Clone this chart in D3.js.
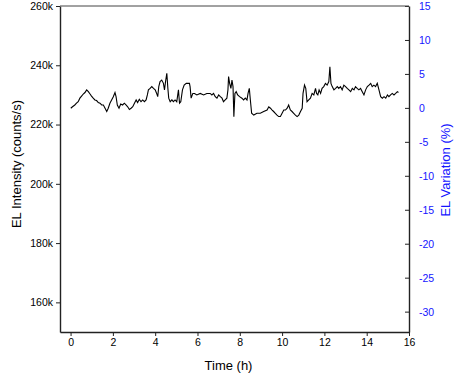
<!DOCTYPE html>
<html>
<head>
<meta charset="utf-8">
<script src="https://cdn.jsdelivr.net/npm/d3@7"></script>
<style>
  body { margin: 0; background: #fff; }
  svg { font-family: "Liberation Sans", Arial, sans-serif; }
  .axis path, .axis line { stroke: #222; }
</style>
</head>
<body>
<div id="chart"></div>
<script>
// time (h) and EL intensity (k counts/s)
const timeH = [
  0.01, 0.09, 0.20, 0.28, 0.36, 0.44, 0.52, 0.60, 0.68, 0.76, 0.84, 0.92, 0.99, 1.07, 1.15, 1.23,
  1.31, 1.39, 1.47, 1.55, 1.63, 1.71, 1.78, 1.86, 1.94, 2.02, 2.10, 2.15, 2.21, 2.29, 2.37, 2.46,
  2.54, 2.62, 2.70, 2.78, 2.86, 2.94, 3.02, 3.10, 3.17, 3.25, 3.33, 3.41, 3.49, 3.57, 3.63, 3.68,
  3.76, 3.84, 3.92, 4.00, 4.07, 4.12, 4.17, 4.23, 4.31, 4.39, 4.44, 4.49, 4.55, 4.60, 4.64, 4.71,
  4.79, 4.86, 4.94, 5.02, 5.10, 5.15, 5.21, 5.29, 5.37, 5.47, 5.54, 5.62, 5.65, 5.70, 5.78, 5.86,
  5.97, 6.13, 6.29, 6.44, 6.60, 6.68, 6.76, 6.84, 6.92, 7.00, 7.08, 7.16, 7.23, 7.31, 7.39, 7.44,
  7.47, 7.52, 7.58, 7.63, 7.68, 7.72, 7.77, 7.83, 7.90, 7.99, 8.10, 8.18, 8.26, 8.34, 8.39, 8.45,
  8.50, 8.56, 8.66, 8.81, 8.97, 9.13, 9.29, 9.37, 9.45, 9.53, 9.60, 9.68, 9.76, 9.84, 9.92, 10.00,
  10.08, 10.16, 10.24, 10.31, 10.39, 10.47, 10.55, 10.63, 10.71, 10.79, 10.87, 10.95, 10.99, 11.06,
  11.12, 11.18, 11.26, 11.34, 11.42, 11.50, 11.58, 11.63, 11.69, 11.75, 11.82, 11.89, 11.97, 12.05,
  12.13, 12.21, 12.26, 12.31, 12.37, 12.45, 12.53, 12.61, 12.68, 12.76, 12.84, 12.92, 13.00, 13.08,
  13.16, 13.24, 13.32, 13.40, 13.47, 13.55, 13.63, 13.71, 13.79, 13.87, 13.95, 14.03, 14.11, 14.19,
  14.26, 14.34, 14.42, 14.50, 14.58, 14.66, 14.74, 14.82, 14.90, 14.98, 15.05, 15.13, 15.21, 15.29,
  15.37, 15.45, 15.50
];
const intensityK = [
  225.5, 226.0, 226.6, 227.2, 227.7, 228.9, 229.6, 230.3, 230.8, 231.7, 231.1, 230.3, 229.6, 228.9, 228.3, 228.1,
  227.4, 227.2, 226.6, 226.6, 225.5, 224.4, 225.5, 227.2, 228.3, 229.4, 230.8, 229.4, 226.6, 225.5, 226.9, 226.6,
  227.2, 226.6, 226.0, 225.1, 225.5, 226.0, 227.2, 228.3, 227.4, 228.5, 227.7, 228.3, 227.7, 228.3, 230.0, 231.7,
  232.2, 232.8, 232.2, 231.7, 230.5, 229.4, 232.8, 234.5, 235.0, 233.9, 231.7, 234.5, 237.3, 232.2, 228.9, 227.7,
  228.3, 227.7, 228.3, 227.7, 231.7, 227.2, 227.7, 231.7, 233.3, 233.9, 233.9, 233.9, 232.8, 228.9, 230.5, 230.5,
  230.0, 230.5, 230.0, 230.5, 230.5, 230.0, 230.5, 229.4, 228.9, 230.0, 229.4, 228.9, 227.7, 228.3, 228.9, 231.7,
  236.2, 233.9, 232.2, 235.0, 232.8, 222.6, 230.5, 231.1, 230.0, 229.4, 228.9, 228.3, 228.9, 228.3, 230.5, 232.2,
  228.3, 223.8, 223.2, 223.8, 223.8, 224.4, 224.9, 226.0, 225.5, 224.9, 224.4, 223.8, 223.2, 222.7, 222.7, 223.8,
  224.9, 224.9, 225.5, 226.6, 224.9, 224.4, 223.8, 223.2, 222.7, 223.2, 224.4, 225.5, 230.5, 233.3,
  232.2, 227.7, 228.3, 228.9, 230.5, 230.0, 232.2, 230.5, 230.0, 231.7, 230.5, 232.2, 232.8, 233.9,
  233.3, 234.5, 239.5, 233.9, 232.8, 231.7, 232.2, 232.8, 232.2, 232.8, 231.7, 233.3, 232.8, 232.2,
  231.7, 231.1, 232.2, 231.7, 232.8, 232.2, 231.7, 232.2, 231.1, 230.0, 231.7, 232.8, 233.3, 233.9,
  232.8, 233.3, 232.8, 233.9, 231.7, 229.4, 228.9, 229.4, 228.9, 230.0, 229.4, 230.0, 230.5, 230.0,
  230.5, 231.1, 230.8
];

const xMajor = [0, 2, 4, 6, 8, 10, 12, 14, 16];
const xMinor = [1, 3, 5, 7, 9, 11, 13, 15];
const yMajor = [160, 180, 200, 220, 240, 260];
const yMinor = [170, 190, 210, 230, 250];
const y2Major = [-30, -25, -20, -15, -10, -5, 0, 5, 10, 15];
const y2Minor = [-32.5, -27.5, -22.5, -17.5, -12.5, -7.5, -2.5, 2.5, 7.5, 12.5];

const W = 454, H = 374;
const margin = {top: 6, right: 45, bottom: 42, left: 60};
const width = W - margin.left - margin.right,
  height = H - margin.top - margin.bottom;

const sx = d3.scaleLinear().domain([-0.5, 16]).range([0, width]);
const sy = d3.scaleLinear().domain([150, 260]).range([height, 0]);
const sy2 = d3.scaleLinear().domain([-33, 15]).range([height, 0]);

const svg = d3.select('#chart').append('svg')
  .attr('width', W)
  .attr('height', H)
  .append('g')
  .attr('transform', `translate(${margin.left},${margin.top})`);

// series
const data = timeH.map((t, i) => ({t: t, v: intensityK[i]}));
svg.append('path')
  .datum(data)
  .attr('fill', 'none')
  .attr('stroke', '#000')
  .attr('stroke-width', 1.1)
  .attr('d', d3.line().x(d => sx(d.t)).y(d => sy(d.v)));

// bottom axis
const gx = svg.append('g').attr('class', 'axis')
  .attr('transform', `translate(0,${height})`);
gx.call(d3.axisBottom(sx).tickValues(xMinor).tickSize(2.5).tickFormat(''));
gx.call(d3.axisBottom(sx).tickValues(xMajor).tickSize(4).tickSizeOuter(0).tickPadding(3));
gx.selectAll('text').attr('font-size', 10.5).attr('fill', '#000');

// left axis
const gy = svg.append('g').attr('class', 'axis');
gy.call(d3.axisLeft(sy).tickValues(yMinor).tickSize(2.5).tickFormat(''));
gy.call(d3.axisLeft(sy).tickValues(yMajor).tickSize(4).tickSizeOuter(0).tickPadding(3)
  .tickFormat(d => d + 'k'));
gy.selectAll('text').attr('font-size', 10.5).attr('fill', '#000');

// right axis, ticks pointing inward, plain hyphen minus
const gy2 = svg.append('g').attr('class', 'axis')
  .attr('transform', `translate(${width},0)`);
gy2.call(d3.axisRight(sy2).tickValues(y2Minor).tickSize(-2.5).tickFormat(''));
gy2.call(d3.axisRight(sy2).tickValues(y2Major).tickSize(-4).tickSizeOuter(0).tickPadding(10)
  .tickFormat(d => String(d)));
gy2.selectAll('text').attr('font-size', 10.5).attr('fill', '#1515ff');

// frame top
svg.append('line')
  .attr('x1', 0).attr('x2', width)
  .attr('y1', 0).attr('y2', 0)
  .attr('stroke', '#444');

svg.selectAll('.axis path.domain').attr('stroke-width', 1.4);

// titles
svg.append('text')
  .attr('x', width / 2 - 6)
  .attr('y', height + 38)
  .attr('text-anchor', 'middle')
  .attr('font-size', 13)
  .text('Time (h)');

svg.append('text')
  .attr('transform', `translate(${16 - margin.left},${164 - margin.top}) rotate(-90)`)
  .attr('dy', '0.35em')
  .attr('text-anchor', 'middle')
  .attr('font-size', 13)
  .text('EL Intensity (counts/s)');

svg.append('text')
  .attr('transform', `translate(${445 - margin.left},${170 - margin.top}) rotate(-90)`)
  .attr('dy', '0.35em')
  .attr('text-anchor', 'middle')
  .attr('font-size', 13)
  .attr('fill', '#1515ff')
  .text('EL Variation (%)');
</script>
</body>
</html>
